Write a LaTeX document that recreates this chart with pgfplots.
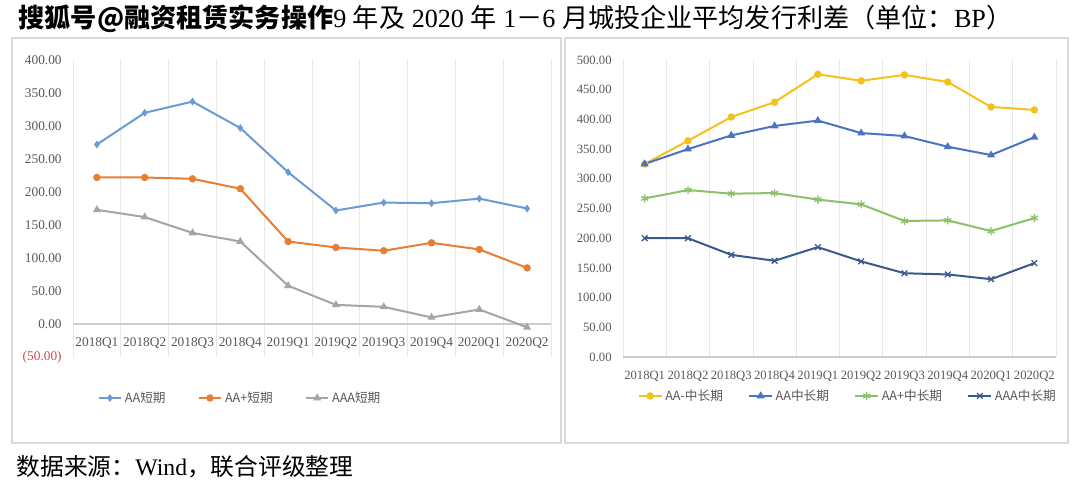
\documentclass[border=0pt]{standalone}
\usepackage{pgfplots}
\pgfplotsset{compat=1.18}
\usepackage{fontspec}
\setmainfont{Liberation Serif}
\newfontfamily\cjk{Noto Sans CJK SC}
\definecolor{labgray}{HTML}{595959}
\definecolor{negred}{HTML}{C0504D}
\definecolor{cAA}{HTML}{6A9BD3}
\definecolor{cAAp}{HTML}{E67E36}
\definecolor{cAAA}{HTML}{A5A5A5}
\definecolor{cAAm}{HTML}{F4C21C}
\definecolor{cAAl}{HTML}{4A74C0}
\definecolor{cAApl}{HTML}{8CC168}
\definecolor{cAAAl}{HTML}{3B5A8C}
\definecolor{boxgray}{HTML}{D9D9D9}
\begin{document}
\begin{tikzpicture}[x=0.75pt,y=-0.75pt]
\useasboundingbox (0,0) rectangle (1080,483);
\fill[white] (0,0) rectangle (1080,483);
\coordinate (LA) at (73,357);
\coordinate (RA) at (623,357);
% panel boxes
\draw[boxgray,line width=0.8pt] (12,38) rectangle (561,443);
\draw[boxgray,line width=0.8pt] (565,38) rectangle (1068,443);
% title
\node[anchor=west,font=\fontsize{19.6}{22}\selectfont] at (14,19) {{\cjk\bfseries 搜狐号@融资租赁实务操作}9 {\cjk 年及} 2020 {\cjk 年} 1{\cjk －}6 {\cjk 月城投企业平均发行利差（单位：}BP{\cjk ）}};
% source
\node[anchor=west,font=\fontsize{17.8}{19}\selectfont] at (12,467) {{\cjk 数据来源：}Wind{\cjk ，联合评级整理}};

\pgfplotsset{
  panel/.style={
    scale only axis,
    xmin=-0.5, xmax=9.5,
    xtick={0,...,9},
    xticklabels={2018Q1,2018Q2,2018Q3,2018Q4,2019Q1,2019Q2,2019Q3,2019Q4,2020Q1,2020Q2},
    minor xtick={-0.5,0.5,...,9.5},
    xminorgrids,
    minor grid style={gray!18, line width=0.6pt},
    major tick length=0pt, minor tick length=0pt,
    clip=false,
    legend style={draw=none, fill=none, font=\fontsize{9.5}{10}\selectfont\cjk, text=labgray,
      legend columns=-1},
    legend cell align=left,
  }
}

% LEFT
\begin{axis}[panel,
  at={(LA)}, anchor=south west,
  width=358.5pt, height=222.75pt,
  ymin=-50, ymax=400,
  ytick={-50,0,...,400},
  yticklabels={\textcolor{negred}{(50.00)},0.00,50.00,100.00,150.00,200.00,250.00,300.00,350.00,400.00},
  tick label style={font=\fontsize{10}{11}\selectfont, text=labgray},
  axis x line=middle, axis y line=left,
  x axis line style={-, gray!40, line width=0.8pt},
  y axis line style={draw=none},
  xticklabel style={yshift=-6.5pt},
  yticklabel style={xshift=-5pt},
  legend style={at={(0.35,-0.138)}, anchor=center, /tikz/every even column/.append style={column sep=22pt}},
]
\addplot[cAA, line width=1.5pt, mark=diamond*, mark size=1.7pt] coordinates {
(0,272) (1,320) (2,337) (3,297) (4,230) (5,172) (6,184) (7,183) (8,190) (9,175)};
\addlegendentry{AA短期}
\addplot[cAAp, line width=1.5pt, mark=*, mark size=2pt] coordinates {
(0,222) (1,222) (2,220) (3,205) (4,125) (5,116) (6,111) (7,123) (8,113) (9,85)};
\addlegendentry{AA+短期}
\addplot[cAAA, line width=1.5pt, mark=triangle*, mark size=2pt] coordinates {
(0,173) (1,162) (2,138) (3,125) (4,58) (5,29) (6,26) (7,10) (8,22) (9,-5)};
\addlegendentry{AAA短期}
\end{axis}

% RIGHT
\begin{axis}[panel,
  at={(RA)}, anchor=south west,
  width=324.75pt, height=222.75pt,
  ymin=0, ymax=500,
  ytick={0,50,...,500},
  yticklabels={0.00,50.00,100.00,150.00,200.00,250.00,300.00,350.00,400.00,450.00,500.00},
  tick label style={font=\fontsize{9.5}{10}\selectfont, text=labgray},
  axis x line=bottom, axis y line=left,
  x axis line style={-, gray!40, line width=0.8pt},
  y axis line style={draw=none},
  xticklabel style={yshift=-7pt},
  yticklabel style={xshift=-5pt},
  legend style={at={(0.52,-0.131)}, anchor=center, /tikz/every even column/.append style={column sep=17pt}},
]
\addplot[cAAm, line width=1.5pt, mark=*, mark size=2pt] coordinates {
(0,325) (1,364) (2,404) (3,429) (4,476) (5,465) (6,475) (7,463) (8,421) (9,416)};
\addlegendentry{AA-中长期}
\addplot[cAAl, line width=1.5pt, mark=triangle*, mark size=2pt] coordinates {
(0,325) (1,350) (2,373) (3,389) (4,398) (5,377) (6,372) (7,354) (8,340) (9,370)};
\addlegendentry{AA中长期}
\addplot[cAApl, line width=1.5pt, mark=asterisk, mark size=3pt, mark options={line width=1pt}] coordinates {
(0,267) (1,281) (2,275) (3,276) (4,265) (5,257) (6,229) (7,230) (8,212) (9,234)};
\addlegendentry{AA+中长期}
\addplot[cAAAl, line width=1.5pt, mark=x, mark size=3pt, mark options={line width=1pt}] coordinates {
(0,200) (1,200) (2,172) (3,162) (4,185) (5,161) (6,141) (7,139) (8,131) (9,158)};
\addlegendentry{AAA中长期}
\end{axis}
\end{tikzpicture}
\end{document}
